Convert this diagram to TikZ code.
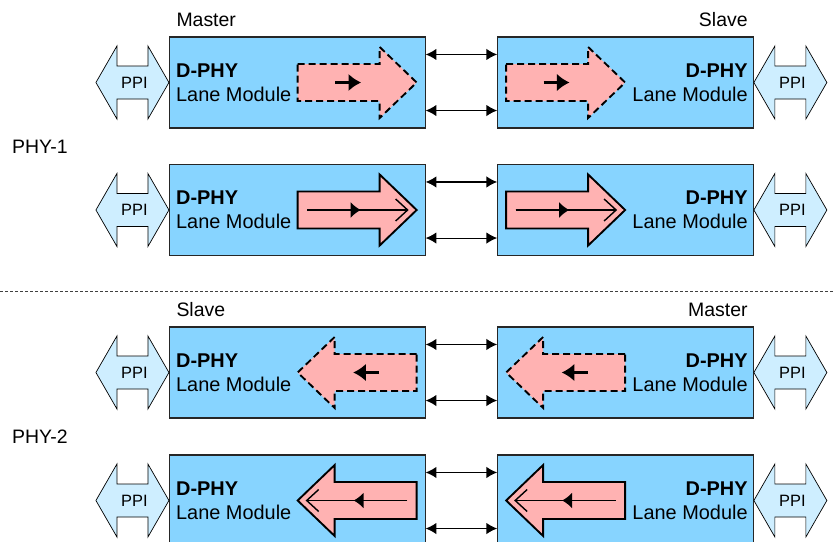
\documentclass[tikz,border=0pt]{standalone}
\usepackage{fontspec}
\setmainfont{Liberation Sans}
\usetikzlibrary{arrows.meta}

\definecolor{modblue}{RGB}{135,212,255}
\definecolor{ppiblue}{RGB}{206,238,255}
\definecolor{lanepink}{RGB}{255,178,178}

\begin{document}
\begin{tikzpicture}[x=0.3mm,y=-0.3mm,
    module/.style={draw=black!85,fill=modblue,line width=0.9pt,
        minimum width=76.7mm,minimum height=27.3mm,inner sep=0pt},
    lbl/.style={font=\fontsize{16.6}{20}\selectfont,inner sep=0pt},
    lanetext/.style={font=\fontsize{17}{20.5}\selectfont,inner sep=0pt},
    link/.style={{Latex[length=3.2mm,width=3.4mm]}-{Latex[length=3.2mm,width=3.4mm]},line width=0.9pt},
    pinkbody/.style={draw,fill=lanepink,line width=1.6pt,line join=miter},
    ppi/.pic={
        \draw[fill=ppiblue,line width=0.6pt] (-36.5,0) -- (-15.5,-36.5) -- (-15.5,-16.5)
            -- (15.5,-16.5) -- (15.5,-36.5) -- (36.5,0) -- (15.5,36.5) -- (15.5,16.5)
            -- (-15.5,16.5) -- (-15.5,36.5) -- cycle;
        \node[font=\fontsize{14}{16}\selectfont] at (2,0) {PPI};
    },
    dashflow/.pic={
        \draw[pinkbody,dash pattern=on 2.1mm off 1.2mm] (-59.5,-18.5) -- (22.5,-18.5) -- (22.5,-35.5)
            -- (59.5,0) -- (22.5,35.5) -- (22.5,18.5) -- (-59.5,18.5) -- cycle;
        \draw[line width=2.4pt,-{Latex[length=3.8mm,width=5.3mm]}] (-22,0) -- (4,0);
    },
    solidflow/.pic={
        \draw[pinkbody] (-59.5,-18.5) -- (22.5,-18.5) -- (22.5,-35.5)
            -- (59.5,0) -- (22.5,35.5) -- (22.5,18.5) -- (-59.5,18.5) -- cycle;
        \draw[line width=1.2pt,-{Straight Barb[length=3.6mm,width=6.6mm]}] (-50,0) -- (51.5,0);
        \draw[line width=1.2pt,-{Latex[length=3mm,width=4.8mm]}] (-50,0) -- (3.5,0);
    }]
    \useasboundingbox (0,0) rectangle (835,541);

    % the four lanes
    \foreach \r/\yc in {1/82.5,2/210,3/372.5,4/500.5}{
        \node[module] (l\r) at (297.3,\yc) {};
        \node[module] (r\r) at (625.5,\yc) {};
        \node[lanetext,anchor=west,align=left] (lt\r) at ([xshift=2.1mm]l\r.west) {\textbf{D-PHY}\\Lane Module};
        \node[lanetext,anchor=east,align=right] (rt\r) at ([xshift=-1.8mm]r\r.east) {\textbf{D-PHY}\\Lane Module};
        \pic at ([xshift=-10.95mm]l\r.west) {ppi};
        \pic at ([xshift=10.95mm]r\r.east) {ppi};
        \draw[link] ([yshift=-5.4mm]l\r.north east) -- ([yshift=-5.4mm]r\r.north west);
        \draw[link] ([yshift=5.4mm]l\r.south east) -- ([yshift=5.4mm]r\r.south west);
    }

    % data direction
    \pic at ([xshift=-20.55mm]l1.east) {dashflow};
    \pic at ([xshift=20.55mm]r1.west) {dashflow};
    \pic at ([xshift=-20.55mm]l2.east) {solidflow};
    \pic at ([xshift=20.55mm]r2.west) {solidflow};
    \pic[xscale=-1] at ([xshift=-20.55mm]l3.east) {dashflow};
    \pic[xscale=-1] at ([xshift=20.55mm]r3.west) {dashflow};
    \pic[xscale=-1] at ([xshift=-20.55mm]l4.east) {solidflow};
    \pic[xscale=-1] at ([xshift=20.55mm]r4.west) {solidflow};

    % roles
    \node[lbl,anchor=base west] (m1) at ([xshift=2.2mm,yshift=3mm]l1.north west) {Master};
    \node[lbl,anchor=base east] (s1) at ([xshift=-1.8mm,yshift=3mm]r1.north east) {Slave};
    \node[lbl,anchor=base west] (s2) at ([xshift=2.2mm,yshift=3mm]l3.north west) {Slave};
    \node[lbl,anchor=base east] (m2) at ([xshift=-1.8mm,yshift=3mm]r3.north east) {Master};
    \node[lbl,anchor=base west] (phy1) at (12,153.3) {PHY-1};
    \node[lbl,anchor=base west] (phy2) at (12,443.3) {PHY-2};

    \draw[black!75,line width=0.5pt,dash pattern=on 0.9mm off 0.6mm] (0,291) -- (835,291);
\end{tikzpicture}
\end{document}
